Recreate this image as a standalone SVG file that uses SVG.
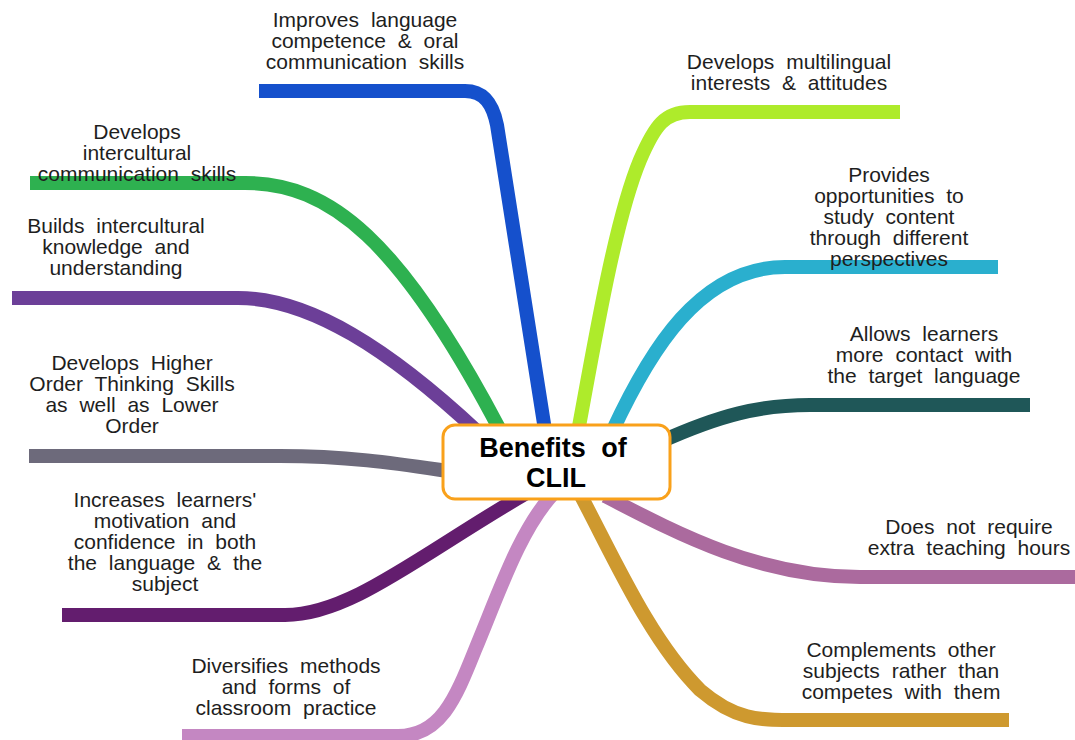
<svg xmlns="http://www.w3.org/2000/svg" width="1075" height="740" viewBox="0 0 1075 740">
<style>
.c{fill:none;stroke-width:14;stroke-linecap:butt;stroke-linejoin:round}
.t{font-family:"Liberation Sans",Arial,sans-serif;font-size:21px;fill:#1e1e1e;text-anchor:middle;word-spacing:6px}
.h{font-family:"Liberation Sans",Arial,sans-serif;font-size:27px;font-weight:bold;fill:#000;text-anchor:middle;word-spacing:8px}
</style>
<rect width="1075" height="740" fill="#fff"/>
<g id="connectors">
<path class="c" stroke="#1550CC" d="M259,91 H465 C485,91 493,105 497,125 L545,430"/>
<path class="c" stroke="#2EB150" d="M30,183 H245 C330,183 400,240 500,430"/>
<path class="c" stroke="#6C3F98" d="M12,298 H238 C310,298 390,350 478,432"/>
<path class="c" stroke="#6D6A7B" d="M29,456 H280 C350,456 400,464 448,471"/>
<path class="c" stroke="#631D6E" d="M62,615 H285 C350,615 420,555 525,494"/>
<path class="c" stroke="#C487C2" d="M182,736 H398 C440,736 455,700 475,650 C500,590 520,530 553,494"/>
<path class="c" stroke="#CE992F" d="M580,494 C615,560 650,640 700,690 C735,720 760,720 790,720 H1009"/>
<path class="c" stroke="#AB6A9E" d="M605,496 C680,535 760,577 860,577 H1075"/>
<path class="c" stroke="#1F5758" d="M660,442 C720,415 760,405 810,405 H1030"/>
<path class="c" stroke="#2AAFCE" d="M612,432 C650,350 700,267 785,267 H998"/>
<path class="c" stroke="#AEEB2B" d="M578,432 C595,340 615,220 640,160 C655,125 665,112 690,112 H900"/>
</g>
<g id="center">
<rect x="443" y="425" width="227" height="74" rx="12" ry="12" fill="#fff" stroke="#F9A11B" stroke-width="3"/>
<text class="h" x="553" y="457">Benefits of</text>
<text class="h" x="556" y="487">CLIL</text>
</g>
<g id="n1"><text class="t" x="365" y="27">Improves language<tspan x="365" dy="21">competence &amp; oral</tspan><tspan x="365" dy="21">communication skills</tspan></text></g>
<g id="n2"><text class="t" x="137" y="139">Develops<tspan x="137" dy="21">intercultural</tspan><tspan x="137" dy="21">communication skills</tspan></text></g>
<g id="n3"><text class="t" x="116" y="233">Builds intercultural<tspan x="116" dy="21">knowledge and</tspan><tspan x="116" dy="21">understanding</tspan></text></g>
<g id="n4"><text class="t" x="132" y="370">Develops Higher<tspan x="132" dy="21">Order Thinking Skills</tspan><tspan x="132" dy="21">as well as Lower</tspan><tspan x="132" dy="21">Order</tspan></text></g>
<g id="n5"><text class="t" x="165" y="507">Increases learners'<tspan x="165" dy="21">motivation and</tspan><tspan x="165" dy="21">confidence in both</tspan><tspan x="165" dy="21">the language &amp; the</tspan><tspan x="165" dy="21">subject</tspan></text></g>
<g id="n6"><text class="t" x="286" y="673">Diversifies methods<tspan x="286" dy="21">and forms of</tspan><tspan x="286" dy="21">classroom practice</tspan></text></g>
<g id="n7"><text class="t" x="789" y="69">Develops multilingual<tspan x="789" dy="21">interests &amp; attitudes</tspan></text></g>
<g id="n8"><text class="t" x="889" y="182">Provides<tspan x="889" dy="21">opportunities to</tspan><tspan x="889" dy="21">study content</tspan><tspan x="889" dy="21">through different</tspan><tspan x="889" dy="21">perspectives</tspan></text></g>
<g id="n9"><text class="t" x="924" y="341">Allows learners<tspan x="924" dy="21">more contact with</tspan><tspan x="924" dy="21">the target language</tspan></text></g>
<g id="n10"><text class="t" x="969" y="534">Does not require<tspan x="969" dy="21">extra teaching hours</tspan></text></g>
<g id="n11"><text class="t" x="901" y="657">Complements other<tspan x="901" dy="21">subjects rather than</tspan><tspan x="901" dy="21">competes with them</tspan></text></g>
</svg>
